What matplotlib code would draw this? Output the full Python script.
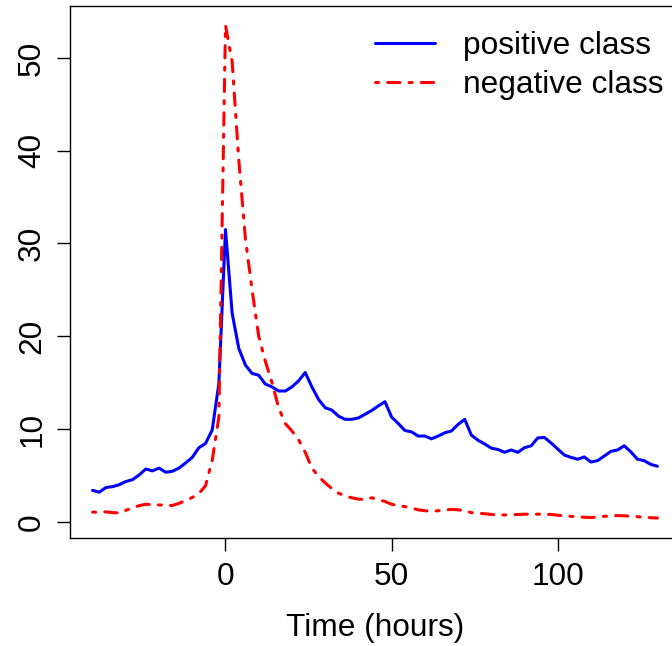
import numpy as np
import matplotlib
matplotlib.use("Agg")
import matplotlib.pyplot as plt

# Mean signal around the event, sampled every 2 hours
hours = list(range(-40, 131, 2))

positive_class = [
    3.4, 3.2, 3.7, 3.8, 4.0, 4.35, 4.55, 5.05, 5.7, 5.5,
    5.8, 5.35, 5.45, 5.8, 6.35, 6.95, 8.0, 8.45, 9.9, 14.9,
    31.5, 22.5, 18.7, 16.9, 16.0, 15.8, 14.85, 14.55, 14.1, 14.1,
    14.55, 15.2, 16.1, 14.55, 13.2, 12.3, 12.05, 11.4, 11.05, 11.05,
    11.2, 11.6, 12.0, 12.5, 12.95, 11.3, 10.6, 9.85, 9.7, 9.25,
    9.25, 8.95, 9.25, 9.6, 9.8, 10.5, 11.05, 9.35, 8.8, 8.4,
    7.95, 7.8, 7.5, 7.75, 7.5, 8.0, 8.2, 9.05, 9.1, 8.5,
    7.85, 7.2, 6.95, 6.75, 7.0, 6.45, 6.6, 7.1, 7.6, 7.75,
    8.2, 7.55, 6.75, 6.6, 6.2, 6.0,
]

negative_class = [
    1.05, 1.05, 1.08, 1.0, 0.97, 1.25, 1.5, 1.75, 1.9, 1.85,
    1.83, 1.78, 1.77, 2.0, 2.3, 2.63, 3.05, 3.9, 6.6, 11.3,
    53.5, 49.6, 39.0, 30.5, 25.0, 20.0, 17.3, 15.0, 12.3, 10.6,
    9.8, 8.85, 7.5, 5.8, 4.9, 4.2, 3.6, 3.1, 2.8, 2.6,
    2.45, 2.4, 2.6, 2.4, 2.2, 1.9, 1.75, 1.65, 1.5, 1.3,
    1.2, 1.15, 1.2, 1.28, 1.35, 1.3, 1.2, 1.0, 0.93, 0.88,
    0.8, 0.75, 0.75, 0.76, 0.8, 0.83, 0.83, 0.83, 0.82, 0.8,
    0.72, 0.65, 0.6, 0.55, 0.5, 0.47, 0.52, 0.6, 0.65, 0.68,
    0.66, 0.61, 0.56, 0.5, 0.45, 0.42,
]

x_ticks = [0, 50, 100]
y_ticks = [0, 10, 20, 30, 40, 50]
x_label = "Time (hours)"
legend_labels = ["positive class", "negative class"]

plt.rcParams["font.family"] = ["Liberation Sans", "DejaVu Sans"]
FS = 22.8

fig = plt.figure(figsize=(6.72, 6.46), dpi=100)
W, H = 672, 646
ax = fig.add_axes([70 / W, (H - 537.7) / H, (680 - 70) / W, (537.7 - 5.7) / H])

lw = 2.2
ax.plot(hours, positive_class, color="#0000FF", lw=lw,
        solid_joinstyle="round", solid_capstyle="round", label=legend_labels[0])
ax.plot(hours, negative_class, color="#FF0000", lw=lw,
        dashes=(1, 3, 4, 3), dash_capstyle="round", dash_joinstyle="round",
        label=legend_labels[1])

span_x = hours[-1] - hours[0]
ax.set_xlim(hours[0] - 0.04 * span_x, hours[-1] + 0.04 * span_x)
all_y = positive_class + negative_class
lo, hi = min(all_y), max(all_y)
ax.set_ylim(lo - 0.04 * (hi - lo), hi + 0.04 * (hi - lo))

ax.set_xticks(x_ticks)
ax.set_yticks(y_ticks)
ax.tick_params(axis="both", direction="out", length=9.4, width=1.0,
               labelsize=FS, color="black")
ax.tick_params(axis="x", pad=8.0)
ax.tick_params(axis="y", pad=7.0)
for lab in ax.get_yticklabels():
    lab.set_rotation(90)
    lab.set_va("center")

for s in ax.spines.values():
    s.set_linewidth(1.0)
    s.set_color("black")

ax.set_xlabel(x_label, fontsize=FS, labelpad=15)

leg = ax.legend(loc="upper left", bbox_to_anchor=(375 / W, (H - 31) / H),
                bbox_transform=fig.transFigure, frameon=False, fontsize=FS,
                handlelength=1.9, handletextpad=0.88, labelspacing=0.29,
                borderpad=0, borderaxespad=0)

fig.savefig("out.png", dpi=100)
